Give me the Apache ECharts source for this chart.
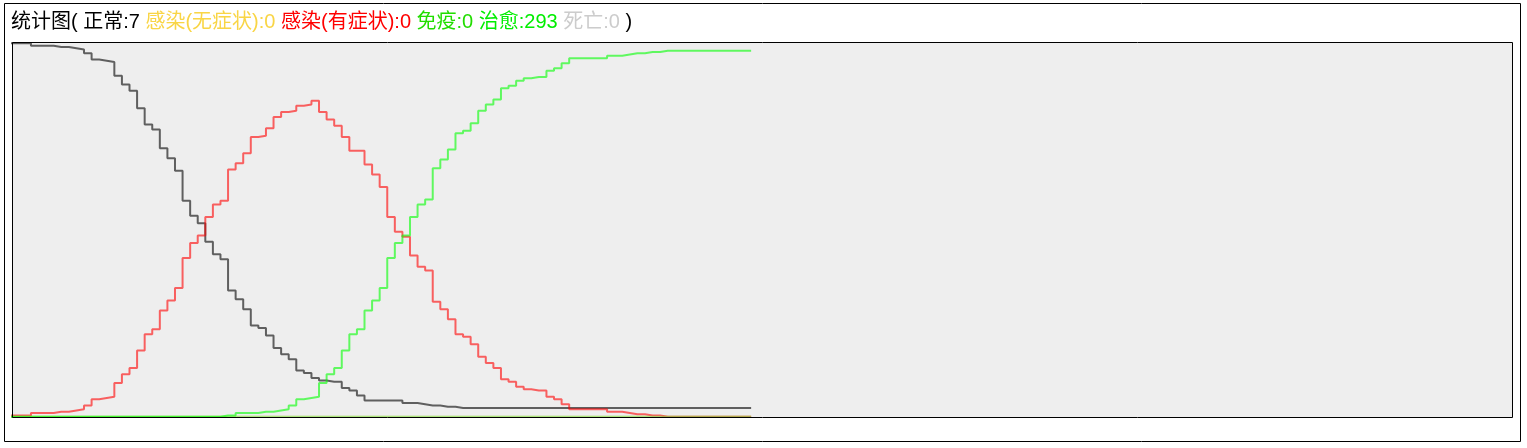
<!DOCTYPE html>
<html>
<head>
<meta charset="utf-8">
<script src="https://cdn.jsdelivr.net/npm/echarts@6/dist/echarts.min.js"></script>
<style>
  html, body { margin: 0; padding: 0; background: #fff; }
  #chart { width: 1527px; height: 448px; }
</style>
</head>
<body>
<div id="chart"></div>
<script>
// ---- data (people per state, one value per day) ----
const normal = [
  299,299,299,297,297,297,296,296,295,294,
  291,286,285,284,273,266,261,247,234,230,
  215,207,197,173,161,155,140,130,126,101,
  94,86,73,71,65,55,50,46,37,35,
  31,29,28,28,23,21,17,13,13,13,
  13,13,11,11,10,9,9,8,8,7,
  7,7,7,7,7,7,7,7,7,7,
  7,7,7,7,7,7,7,7,7,7,
  7,7,7,7,7,7,7,7,7,7,
  7,7,7,7,7,7,7,7,7
];
const symptomatic = [
  1,1,1,3,3,3,4,4,5,6,
  9,14,15,16,27,34,39,53,66,70,
  85,93,103,127,139,145,160,170,173,198,
  203,211,224,225,231,240,244,245,249,250,
  253,244,238,233,224,213,213,202,194,184,
  160,148,144,129,120,117,92,86,78,66,
  64,58,48,43,39,30,28,24,22,21,
  21,16,14,10,6,6,6,6,6,4,
  4,3,2,2,1,1,0,0,0,0,
  0,0,0,0,0,0,0,0,0
];
const cured = [
  0,0,0,0,0,0,0,0,0,0,
  0,0,0,0,0,0,0,0,0,0,
  0,0,0,0,0,0,0,0,1,1,
  3,3,3,4,4,5,6,9,14,15,
  16,27,34,39,53,66,70,85,93,103,
  127,139,145,160,170,174,199,206,214,227,
  229,235,245,250,254,263,265,269,271,272,
  272,277,279,283,287,287,287,287,287,289,
  289,290,291,291,292,292,293,293,293,293,
  293,293,293,293,293,293,293,293,293
];
const asymptomatic = [
  0,0,0,0,0,0,0,0,0,0, 0,0,0,0,0,0,0,0,0,0,
  0,0,0,0,0,0,0,0,0,0, 0,0,0,0,0,0,0,0,0,0,
  0,0,0,0,0,0,0,0,0,0, 0,0,0,0,0,0,0,0,0,0,
  0,0,0,0,0,0,0,0,0,0, 0,0,0,0,0,0,0,0,0,0,
  0,0,0,0,0,0,0,0,0,0, 0,0,0,0,0,0,0,0,0
];
const immune = [
  0,0,0,0,0,0,0,0,0,0, 0,0,0,0,0,0,0,0,0,0,
  0,0,0,0,0,0,0,0,0,0, 0,0,0,0,0,0,0,0,0,0,
  0,0,0,0,0,0,0,0,0,0, 0,0,0,0,0,0,0,0,0,0,
  0,0,0,0,0,0,0,0,0,0, 0,0,0,0,0,0,0,0,0,0,
  0,0,0,0,0,0,0,0,0,0, 0,0,0,0,0,0,0,0,0
];
const dead = [
  0,0,0,0,0,0,0,0,0,0, 0,0,0,0,0,0,0,0,0,0,
  0,0,0,0,0,0,0,0,0,0, 0,0,0,0,0,0,0,0,0,0,
  0,0,0,0,0,0,0,0,0,0, 0,0,0,0,0,0,0,0,0,0,
  0,0,0,0,0,0,0,0,0,0, 0,0,0,0,0,0,0,0,0,0,
  0,0,0,0,0,0,0,0,0,0, 0,0,0,0,0,0,0,0,0
];
const titlePrefix = '统计图(';
const stateNames = ['正常', '感染(无症状)', '感染(有症状)', '免疫', '治愈', '死亡'];
const stateSeries = [normal, asymptomatic, symptomatic, immune, cured, dead];
const textColors = ['#000000', '#f9d545', '#ff0000', '#22dd00', '#00ee00', '#cccccc'];
const lineColors = ['rgba(0,0,0,0.6)', 'rgba(255,220,60,0.35)', 'rgba(255,0,0,0.6)',
                    'rgba(120,235,90,0.55)', 'rgba(0,255,0,0.6)', 'rgba(200,200,200,0.4)'];

// ---- build chart ----
const FONT = 'Arial, "Liberation Sans", "Noto Sans CJK SC", sans-serif';
const FS = 20;
const toPoints = arr => arr.map((v, i) => [i, v]);
const rich = { t: { color: '#000', fontSize: FS, fontFamily: FONT } };
let titleText = '{t|' + titlePrefix + ' }';
stateNames.forEach((name, i) => {
  rich['c' + i] = { color: textColors[i], fontSize: FS, fontFamily: FONT };
  const vals = stateSeries[i];
  titleText += '{c' + i + '|' + name + ':' + vals[vals.length - 1] + '}' + '{t| }';
});
titleText += '{t|)}';

const drawOrder = [0, 5, 1, 2, 3, 4];
const series = drawOrder.map(i => ({
  name: stateNames[i],
  type: 'line',
  step: 'end',
  showSymbol: false,
  symbol: 'none',
  clip: true,
  silent: true,
  lineStyle: { width: 2, color: lineColors[i] },
  data: toPoints(stateSeries[i])
}));

const chart = echarts.init(document.getElementById('chart'), null, { renderer: 'canvas' });
chart.setOption({
  animation: false,
  backgroundColor: '#ffffff',
  title: {
    text: titleText,
    left: 11,
    top: 12,
    padding: 0,
    textStyle: { fontSize: FS, fontWeight: 'normal', fontFamily: FONT, rich: rich }
  },
  graphic: [{
    type: 'rect',
    silent: true,
    z: 100,
    shape: { x: 4.5, y: 3.5, width: 1516, height: 438 },
    style: { fill: null, stroke: '#000', lineWidth: 1 }
  }, {
    type: 'rect',
    silent: true,
    z: 100,
    shape: { x: 12.5, y: 42.5, width: 1500, height: 375 },
    style: { fill: null, stroke: '#000', lineWidth: 1 }
  }],
  grid: {
    left: 12,
    top: 42,
    width: 1501,
    height: 376,
    show: true,
    backgroundColor: '#eeeeee',
    borderWidth: 0
  },
  xAxis: {
    type: 'value',
    min: 0.5,
    max: 198.5,
    show: false
  },
  yAxis: {
    type: 'value',
    min: -1,
    max: 300,
    show: false
  },
  series: series
});
</script>
</body>
</html>
